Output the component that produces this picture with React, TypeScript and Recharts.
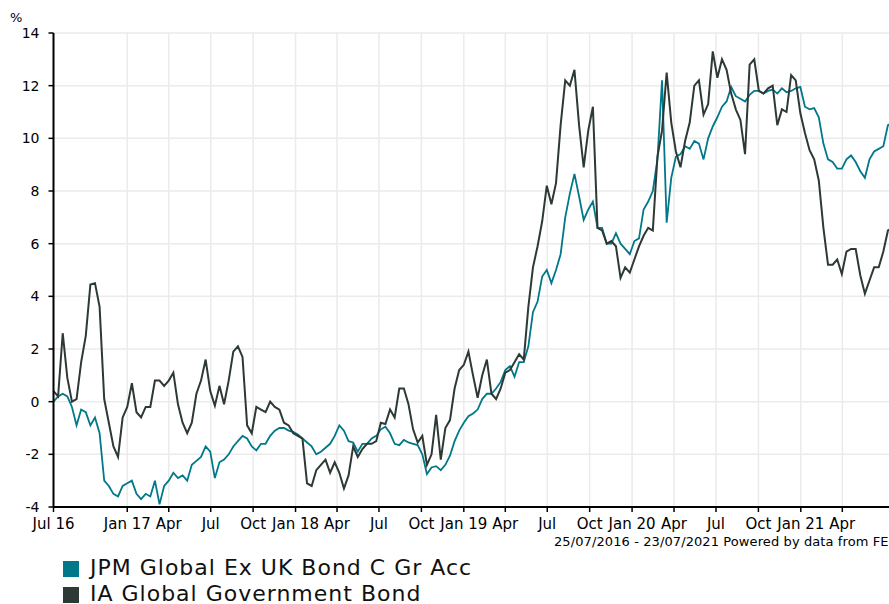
import React from 'react';
import { LineChart, Line, XAxis, YAxis, CartesianGrid } from 'recharts';

const TEAL = '#00788a';
const DARK = '#2d3935';
const FONT = '"DejaVu Sans", Verdana, sans-serif';

const START_DATE = '2016-07-25';
const END_DATE = '2021-07-23';
const STEP_DAYS = 10;

// JPM Global Ex UK Bond C Gr Acc, cumulative % (one reading every 10 days)
const jpmValues = [
  0.0, 0.2, 0.3, 0.2, -0.2, -0.9, -0.3, -0.4, -0.9, -0.6,
  -1.2, -3.0, -3.2, -3.5, -3.6, -3.2, -3.1, -3.0, -3.5, -3.7,
  -3.5, -3.6, -3.0, -3.9, -3.2, -3.0, -2.7, -2.9, -2.8, -3.0,
  -2.4, -2.25, -2.1, -1.7, -1.9, -2.9, -2.3, -2.2, -2.0, -1.7,
  -1.5, -1.3, -1.4, -1.7, -1.85, -1.6, -1.6, -1.3, -1.1, -1.0,
  -1.0, -1.1, -1.15, -1.25, -1.4, -1.55, -1.7, -2.0, -1.9, -1.75,
  -1.6, -1.3, -0.9, -1.1, -1.5, -1.55, -1.9, -1.6, -1.6, -1.4,
  -1.3, -1.05, -0.95, -1.2, -1.6, -1.65, -1.45, -1.55, -1.6, -1.65,
  -2.0, -2.75, -2.5, -2.45, -2.6, -2.4, -2.05, -1.5, -1.1, -0.8,
  -0.55, -0.45, -0.3, 0.1, 0.3, 0.3, 0.5, 0.75, 1.2, 1.35,
  0.95, 1.5, 1.5, 2.1, 3.4, 3.8, 4.75, 5.0, 4.5, 5.0,
  5.6, 7.0, 7.9, 8.65, 7.8, 6.9, 7.3, 7.6, 6.6, 6.6,
  6.0, 6.0, 6.4, 6.0, 5.8, 5.6, 6.1, 6.2, 7.3, 7.6,
  8.0, 9.2, 12.2, 6.8, 8.5, 9.3, 9.4, 9.7, 9.6, 9.9,
  9.8, 9.2, 10.0, 10.45, 10.8, 11.2, 11.4, 11.95, 11.6, 11.5,
  11.4, 11.65, 11.8, 11.8, 11.7, 11.8, 11.85, 11.7, 11.9, 11.75,
  11.8, 11.9, 11.95, 11.2, 11.1, 11.15, 10.8, 9.8, 9.2, 9.1,
  8.85, 8.85, 9.2, 9.35, 9.1, 8.75, 8.5, 9.2, 9.5, 9.6,
  9.7, 10.5, 10.6,
];

// IA Global Government Bond, cumulative % (same dates)
const iaValues = [
  0.4, 0.2, 2.6, 0.9, 0.0, 0.1, 1.5, 2.5, 4.45, 4.5,
  3.6, 0.1, -0.8, -1.7, -2.1, -0.6, -0.2, 0.7, -0.4, -0.6,
  -0.2, -0.2, 0.8, 0.8, 0.6, 0.8, 1.1, -0.1, -0.8, -1.2,
  -0.8, 0.3, 0.8, 1.6, 0.4, -0.15, 0.6, -0.1, 0.8, 1.9,
  2.1, 1.7, -0.9, -1.2, -0.2, -0.3, -0.4, 0.0, -0.2, -0.3,
  -0.8, -0.9, -1.2, -1.3, -1.4, -3.1, -3.2, -2.6, -2.4, -2.2,
  -2.7, -2.3, -2.7, -3.3, -2.8, -1.7, -2.1, -1.8, -1.6, -1.6,
  -1.5, -0.8, -0.85, -0.3, -0.6, 0.5, 0.5, -0.1, -1.05, -1.55,
  -1.3, -2.4, -2.0, -0.5, -2.2, -1.0, -0.7, 0.5, 1.2, 1.4,
  1.9, 1.0, 0.15, 1.0, 1.6, 0.3, 0.1, 0.5, 1.1, 1.2,
  1.5, 1.8, 1.6, 3.6, 5.1, 5.9, 6.85, 8.2, 7.5, 8.3,
  10.5, 12.2, 12.0, 12.6, 10.5, 8.9, 10.3, 11.2, 6.6, 6.5,
  6.0, 6.1, 5.9, 4.7, 5.1, 4.9, 5.4, 5.9, 6.3, 6.6,
  6.5, 9.3, 10.3, 12.5, 10.6, 9.5, 8.9, 9.9, 10.6, 12.0,
  12.2, 10.9, 11.3, 13.3, 12.3, 13.0, 12.6, 11.7, 11.1, 10.7,
  9.4, 12.8, 13.0, 11.8, 11.7, 11.9, 12.0, 10.5, 11.1, 11.0,
  12.4, 12.2, 10.95, 10.2, 9.55, 9.2, 8.4, 6.6, 5.2, 5.2,
  5.4, 4.85, 5.7, 5.8, 5.8, 4.8, 4.1, 4.6, 5.1, 5.1,
  5.7, 6.5, 6.6,
];

const tickDates = [
  '2016-07-25', '2017-01-01', '2017-04-01', '2017-07-01', '2017-10-01',
  '2018-01-01', '2018-04-01', '2018-07-01', '2018-10-01', '2019-01-01',
  '2019-04-01', '2019-07-01', '2019-10-01', '2020-01-01', '2020-04-01',
  '2020-07-01', '2020-10-01', '2021-01-01', '2021-04-01',
];
const tickLabels = [
  'Jul 16', 'Jan 17', 'Apr', 'Jul', 'Oct',
  'Jan 18', 'Apr', 'Jul', 'Oct', 'Jan 19',
  'Apr', 'Jul', 'Oct', 'Jan 20', 'Apr',
  'Jul', 'Oct', 'Jan 21', 'Apr',
];
const yTicks = [-4, -2, 0, 2, 4, 6, 8, 10, 12, 14];

const DAY_MS = 86400000;
const dayOf = (iso: string) => (Date.parse(iso) - Date.parse(START_DATE)) / DAY_MS;

const tickDays = tickDates.map(dayOf);
const labelByDay: Record<number, string> = {};
tickDays.forEach((d, i) => {
  labelByDay[d] = tickLabels[i];
});

const chartData = jpmValues.map((v, i) => ({
  day: i * STEP_DAYS,
  jpm: v,
  ia: iaValues[i],
}));

const legendItems = [
  { name: 'JPM Global Ex UK Bond C Gr Acc', color: TEAL },
  { name: 'IA Global Government Bond', color: DARK },
];

export default function App() {
  return (
    <div
      style={{
        position: 'absolute',
        left: 0,
        top: 0,
        width: 889,
        height: 604,
        overflow: 'hidden',
        background: '#fff',
        fontFamily: FONT,
      }}
    >
      <div style={{ position: 'absolute', left: 10, top: 10, fontSize: 13, color: '#000' }}>%</div>

      <LineChart
        width={900}
        height={540}
        data={chartData}
        margin={{ top: 33, right: 5.6, bottom: 3, left: 0 }}
      >
        <CartesianGrid stroke="#ebebeb" strokeWidth={1.5} />
        <XAxis
          dataKey="day"
          type="number"
          domain={[0, dayOf(END_DATE)]}
          ticks={tickDays}
          tickFormatter={(d: number) => labelByDay[d] ?? ''}
          interval={0}
          height={30}
          tickSize={5}
          tickMargin={6}
          axisLine={{ stroke: '#000', strokeWidth: 2 }}
          tickLine={{ stroke: '#000', strokeWidth: 1.5 }}
          tick={{ fill: '#000', fontSize: 15, fontFamily: FONT }}
        />
        <YAxis
          type="number"
          domain={[-4, 14]}
          ticks={yTicks}
          interval={0}
          width={53.5}
          tickSize={5}
          tickMargin={9}
          axisLine={{ stroke: '#000', strokeWidth: 2 }}
          tickLine={{ stroke: '#000', strokeWidth: 1.5 }}
          tick={{ fill: '#000', fontSize: 14, fontFamily: FONT }}
        />
        <Line
          type="linear"
          dataKey="jpm"
          stroke={TEAL}
          strokeWidth={1.8}
          dot={false}
          isAnimationActive={false}
        />
        <Line
          type="linear"
          dataKey="ia"
          stroke={DARK}
          strokeWidth={2}
          dot={false}
          isAnimationActive={false}
        />
      </LineChart>

      <div
        style={{
          position: 'absolute',
          left: 554,
          top: 535,
          fontSize: 13,
          lineHeight: '14px',
          letterSpacing: 0.1,
          whiteSpace: 'nowrap',
          color: '#000',
        }}
      >
        25/07/2016 - 23/07/2021 Powered by data from FE
      </div>

      {legendItems.map((item, i) => (
        <React.Fragment key={item.name}>
          <span
            style={{
              position: 'absolute',
              left: 63,
              top: 560.5 + i * 26,
              width: 16,
              height: 16,
              background: item.color,
            }}
          />
          <div
            style={{
              position: 'absolute',
              left: 90,
              top: 558.6 + i * 26,
              height: 18,
              lineHeight: '18px',
              fontSize: 22,
              letterSpacing: 1,
              whiteSpace: 'nowrap',
              color: '#111',
            }}
          >
            {item.name}
          </div>
        </React.Fragment>
      ))}
    </div>
  );
}
